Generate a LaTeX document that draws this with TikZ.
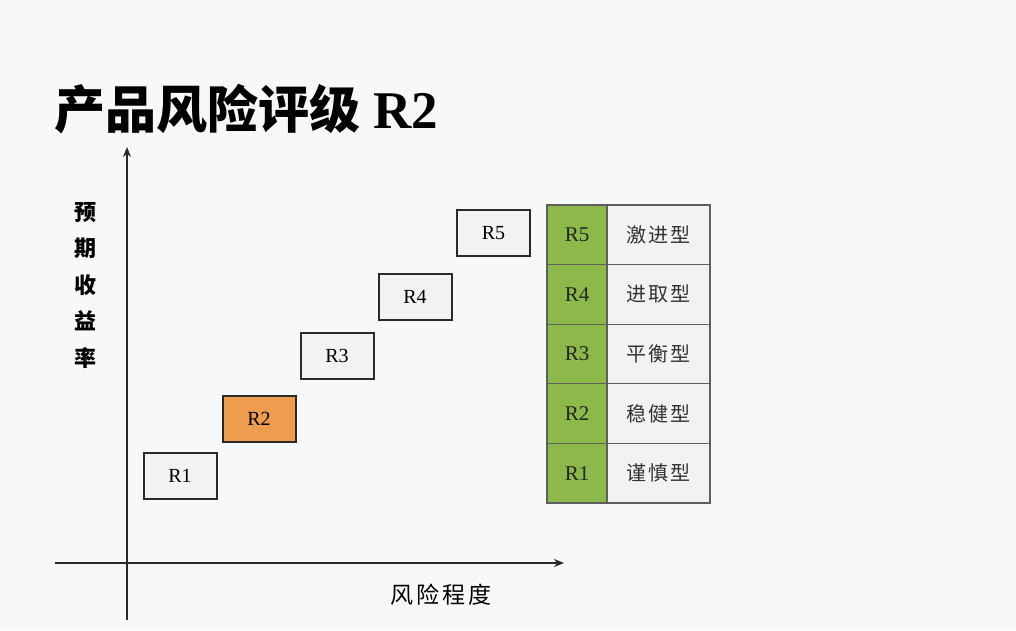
\documentclass[tikz,border=0pt]{standalone}
\usepackage{fontspec}
\setmainfont{Liberation Serif}
\newfontfamily\cjk{Noto Sans CJK SC}
\usetikzlibrary{arrows.meta}
\definecolor{bgc}{HTML}{F7F8FA}
\definecolor{boxc}{HTML}{F2F2F2}
\definecolor{orc}{HTML}{EE9C4E}
\definecolor{grc}{HTML}{8DB84A}
\definecolor{linec}{HTML}{2A2A2A}
\begin{document}
\begin{tikzpicture}[x=1pt,y=-1pt,
  rbox/.style={draw=linec,line width=2pt,fill=boxc,minimum width=73pt,minimum height=46pt,inner sep=0pt,font=\fontsize{20}{20}\selectfont},
  gcell/.style={draw=linec!75,line width=1.2pt,fill=grc,minimum width=60pt,minimum height=59.6pt,inner sep=0pt,font=\fontsize{21}{21}\selectfont\color{black!85}},
  tcell/.style={draw=linec!75,line width=1.2pt,fill=boxc,minimum width=103pt,minimum height=59.6pt,inner sep=0pt,font=\cjk\fontsize{20}{20}\selectfont\color{black!80}},
  axis/.style={line width=2pt,draw=linec,-{Stealth[length=10pt,width=8pt]}}]
\fill[bgc] (0,0) rectangle (1016,630);
\useasboundingbox (0,0) rectangle (1016,630);
% title
\node[anchor=base west,inner sep=0pt] (title) at (54,128)
  {\cjk\fontsize{51}{51}\selectfont\bfseries 产品风险评级\hspace{13pt}{\rmfamily\bfseries\fontsize{53}{53}\selectfont R2}};
% axes
\coordinate (ybot) at (127,620);
\coordinate (ytop) at (127,147);
\coordinate (xl) at (55,563);
\coordinate (xr) at (564,563);
\draw[axis] (ybot) -- (ytop);
\draw[axis] (xl) -- (xr);
% axis labels
\node[inner sep=0pt,align=center,font=\cjk\fontsize{22}{36.5}\selectfont\bfseries] (ylab) at (85,285) {预\\期\\收\\益\\率};
\node[inner sep=0pt,font=\cjk\fontsize{23}{23}\selectfont] (xlab) at (441,595) {风\hspace{3pt}险\hspace{3pt}程\hspace{3pt}度};
% boxes
\node[rbox] (r1) at (180,476) {R1};
\node[rbox,fill=orc] (r2) at (259,418.5) {R2};
\node[rbox] (r3) at (337,355.5) {R3};
\node[rbox] (r4) at (415,297) {R4};
\node[rbox] (r5) at (493.5,233) {R5};
% table
\node[gcell] (g5) at (577,234.8) {R5};
\node[gcell] (g4) at (577,294.4) {R4};
\node[gcell] (g3) at (577,354.0) {R3};
\node[gcell] (g2) at (577,413.6) {R2};
\node[gcell] (g1) at (577,473.2) {R1};
\node[tcell] (t5) at (658.5,234.8) {激\hspace{2pt}进\hspace{2pt}型};
\node[tcell] (t4) at (658.5,294.4) {进\hspace{2pt}取\hspace{2pt}型};
\node[tcell] (t3) at (658.5,354.0) {平\hspace{2pt}衡\hspace{2pt}型};
\node[tcell] (t2) at (658.5,413.6) {稳\hspace{2pt}健\hspace{2pt}型};
\node[tcell] (t1) at (658.5,473.2) {谨\hspace{2pt}慎\hspace{2pt}型};
\end{tikzpicture}
\end{document}
